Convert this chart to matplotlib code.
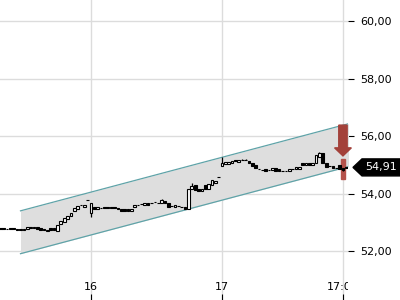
import numpy as np
import matplotlib
matplotlib.use('Agg')
import matplotlib.pyplot as plt
import matplotlib.transforms as mtransforms
from matplotlib.patches import Polygon, FancyArrow, Rectangle

# 15-minute candles, index 0 = start of day 16, index 39 = start of day 17
opens = [
    52.79, 52.79, 52.78, 52.79, 52.80, 52.77, 52.76, 52.76,
    52.76, 52.80, 52.84, 52.85, 52.79, 52.78, 52.71, 52.79, 52.81,
    52.70, 52.93, 53.02, 53.10, 53.22, 53.39, 53.48, 53.60, 53.53, 53.78,
    53.31, 53.54, 53.46, 53.51, 53.54, 53.52, 53.53, 53.53, 53.49, 53.47,
    53.46, 53.45, 53.38, 53.54, 53.60, 53.64, 53.60, 53.66, 53.68, 53.71,
    53.68, 53.68, 53.75, 53.68, 53.57, 53.52, 53.58, 53.55, 53.54, 53.47,
    54.17, 54.29, 54.16, 54.09, 54.29, 54.17, 54.31, 54.36, 54.57,
    54.96, 55.02, 55.03, 55.05, 55.15, 55.09, 55.17, 55.17, 55.13, 55.05,
    54.99, 54.86, 54.83, 54.85, 54.83, 54.81, 54.88, 54.85, 54.80, 54.79,
    54.78, 54.86, 54.85, 54.86, 55.07, 54.99, 55.05, 55.00, 55.08, 55.28,
    55.40, 55.05, 54.97, 54.97, 54.90, 54.99, 54.89, 54.90,
]
closes = [
    52.76, 52.76, 52.76, 52.76, 52.77, 52.74, 52.72, 52.72,
    52.84, 52.84, 52.79, 52.77, 52.72, 52.72, 52.74, 52.75, 52.72,
    52.90, 53.05, 53.14, 53.22, 53.33, 53.51, 53.57, 53.59, 53.60, 53.77,
    53.66, 53.46, 53.54, 53.50, 53.50, 53.51, 53.49, 53.49, 53.48, 53.39,
    53.38, 53.38, 53.46, 53.60, 53.59, 53.63, 53.66, 53.60, 53.67, 53.70,
    53.67, 53.77, 53.68, 53.52, 53.56, 53.60, 53.57, 53.54, 53.47, 54.15,
    54.26, 54.12, 54.08, 54.16, 54.17, 54.33, 54.46, 54.44, 54.56,
    55.06, 55.11, 55.11, 55.14, 55.14, 55.17, 55.16, 55.16, 55.05, 54.97,
    54.88, 54.85, 54.82, 54.78, 54.82, 54.88, 54.78, 54.78, 54.79, 54.78,
    54.85, 54.85, 54.92, 54.93, 54.99, 55.05, 54.99, 55.08, 55.34, 55.40,
    55.05, 54.93, 54.96, 54.88, 54.89, 54.85, 54.82, 54.91,
]
positions = np.arange(-27, -27 + len(opens))
# visible wicks: candle index -> (low, high)
wicks = {0: (53.18, 53.66), 21: (53.68, 53.81), 30: (54.17, 54.38),
         39: (54.96, 55.27), 45: (55.16, 55.20), 46: (55.16, 55.20),
         68: (55.28, 55.45), 75: (54.78, 54.90)}

# regression channel
chan_x = [-21, 77]
chan_upper = [53.40, 56.44]
chan_lower = [51.91, 54.95]

xtick_pos = [0, 39, 75]
xtick_labels = ['16', '17', '17:00']
ytick_pos = [52, 54, 56, 58, 60]
last_price = 54.91
signal_x = 75

plt.rcParams['font.family'] = 'DejaVu Sans'
plt.rcParams['font.size'] = 8

fig = plt.figure(figsize=(4, 3), dpi=100)
ax = fig.add_axes([0, 0, 0.87, 1])
ax.set_xlim(-27.1, 76.5)
ax.set_ylim(50.30, 60.73)

# channel
ax.fill_between(chan_x, chan_lower, chan_upper, color='#dedede', zorder=1, linewidth=0)
ax.plot(chan_x, chan_upper, color='#5fa3a8', lw=0.9, zorder=2)
ax.plot(chan_x, chan_lower, color='#5fa3a8', lw=0.9, zorder=2)

# signal bar + arrow
ax.add_patch(Rectangle((signal_x - 0.65, 54.50), 1.3, 0.70, color='#b5524b',
                       zorder=3, clip_on=False))
ax.add_patch(FancyArrow(signal_x, 56.38, 0, -1.07, width=2.5, head_width=5.0,
                        head_length=0.28, length_includes_head=True,
                        color='#a3413a', zorder=6, clip_on=False))

# candles
for k, x in enumerate(positions):
    o, c = opens[k], closes[k]
    if x in wicks:
        lo, hi = wicks[x]
        ax.vlines(x, lo, hi, color='black', lw=0.9, zorder=4)
    fill = 'white' if c > o else 'black'
    ax.bar(x, c - o, bottom=o, width=0.8, color=fill, edgecolor='black',
           linewidth=0.8, zorder=5)

# grid & ticks
ax.set_xticks(xtick_pos)
ax.set_xticklabels(xtick_labels)
ax.set_yticks(ytick_pos)
ax.set_yticklabels([f'{v:.2f}'.replace('.', ',') for v in ytick_pos])
ax.yaxis.tick_right()
ax.tick_params(axis='y', direction='out', length=4, width=0.8, pad=5, colors='black')
ax.tick_params(axis='x', direction='in', length=4, width=0.8, pad=-13)
ax.grid(True, color='#dcdcdc', lw=1, zorder=0)
ax.set_axisbelow(True)
for s in ax.spines.values():
    s.set_visible(False)
for lbl in ax.get_xticklabels():
    lbl.set_clip_on(True)
    lbl.set_clip_box(ax.bbox)

# last price tag
fig.canvas.draw()
yp = ax.transData.transform((0, last_price))[1]
ident = mtransforms.IdentityTransform()
tag = Polygon([(353, yp), (362, yp + 8.5), (400, yp + 8.5), (400, yp - 8.5), (362, yp - 8.5)],
              closed=True, color='black', transform=ident, zorder=10)
fig.add_artist(tag)
fig.text(381, yp, f'{last_price:.2f}'.replace('.', ','), color='white', ha='center',
         va='center', transform=ident, zorder=11)

fig.savefig('out.png', dpi=100)
